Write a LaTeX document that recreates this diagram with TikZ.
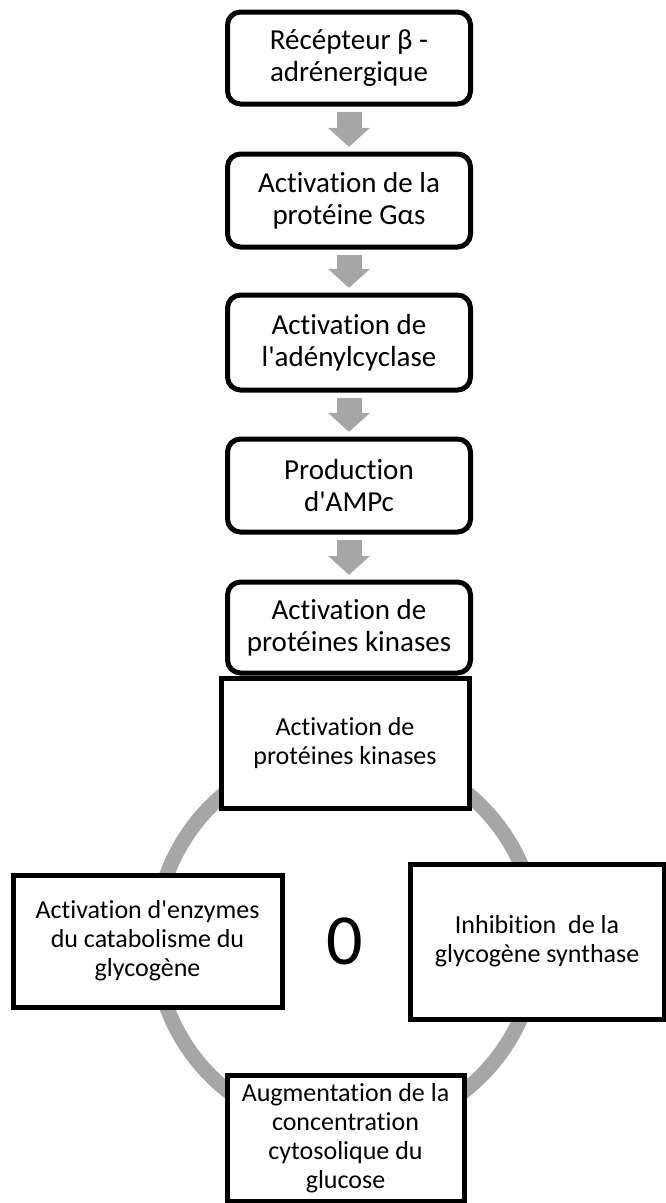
\documentclass[tikz,border=0pt]{standalone}
\usepackage{fontspec}
\setmainfont{Carlito}[Ligatures={NoCommon,TeXOff}]
\usetikzlibrary{arrows.meta}
\definecolor{ringgray}{HTML}{A6A6A6}
\begin{document}
\begin{tikzpicture}[x=0.75pt,y=-0.75pt,
  stepbox/.style={draw=black, line width=3.75pt, fill=white, rounded corners=9.75pt,
    minimum width=182.25pt, minimum height=69.75pt, inner sep=0pt, align=center,
    font=\fontsize{21.75pt}{24pt}\selectfont},
  cyclebox/.style={draw=black, line width=3.75pt, fill=white, inner sep=0pt, align=center,
    font=\fontsize{19.5pt}{21.75pt}\selectfont},
  flowarrow/.style={draw=ringgray, line width=18.75pt,
    -{Triangle[width=30.75pt,length=14.25pt]}, shorten <=4pt, shorten >=3.5pt}]
\useasboundingbox (0,0) rectangle (666,1203);

% gray ring behind the cycle boxes
\draw[ringgray, line width=11.25pt] (346,941) circle[radius=143.25pt];

% signalling cascade
\node[stepbox, minimum height=69pt]    (b1) at (349,58)    {Récépteur β -\\adrénergique};
\node[stepbox]                         (b2) at (349,200.5) {Activation de la\\protéine Gαs};
\node[stepbox, minimum height=71.25pt] (b3) at (349,342.5) {Activation de\\l'adénylcyclase};
\node[stepbox]                         (b4) at (349,485.5) {Production\\d'AMPc};
\node[stepbox, minimum height=68.25pt] (b5) at (349,627.5) {Activation de\\protéines kinases};

\draw[flowarrow] (b1) -- (b2);
\draw[flowarrow] (b2) -- (b3);
\draw[flowarrow] (b3) -- (b4);
\draw[flowarrow] (b4) -- (b5);

% cycle of effects
\node[cyclebox, minimum width=186pt, minimum height=97.5pt] (kin) at (345,743)
  {Activation de\\protéines kinases};
\node[cyclebox, minimum width=201.75pt, minimum height=99pt] (cat) at (147.5,941)
  {Activation d'enzymes\\du catabolisme du\\glycogène};
\node[cyclebox, minimum width=190.5pt, minimum height=116.25pt] (inh) at (537,941.5)
  {Inhibition\ \ de la\\glycogène synthase};
\node[cyclebox, minimum width=177.75pt, minimum height=94.5pt] (glu) at (345.5,1138)
  {Augmentation de la\\concentration\\cytosolique du\\glucose};

\node[inner sep=0pt, font=\fontsize{54pt}{58pt}\selectfont] (zero) at (345,941) {0};
\end{tikzpicture}
\end{document}
